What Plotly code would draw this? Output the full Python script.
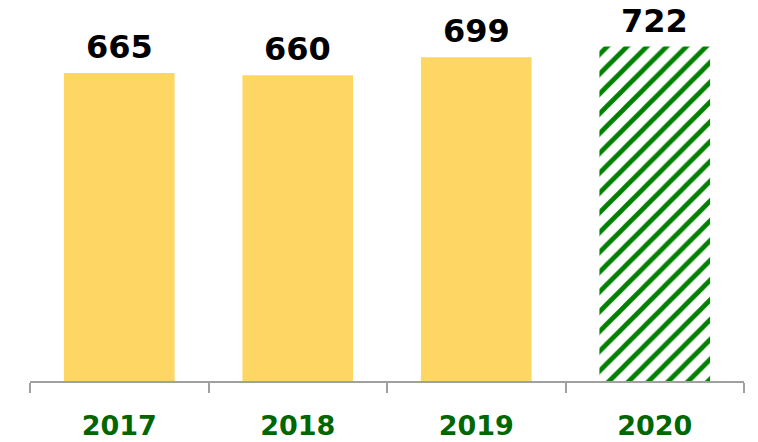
import plotly.graph_objects as go

years = ["2017", "2018", "2019", "2020"]
values = [665, 660, 699, 722]

# the last year is the forecast, drawn with a hatched fill
actual_years, actual_values = years[:3], values[:3]
forecast_years, forecast_values = years[3:], values[3:]

fig = go.Figure()
fig.add_trace(go.Bar(
    x=actual_years,
    y=actual_values,
    width=0.62,
    marker=dict(color="#FDD663", line=dict(width=0)),
    hoverinfo="skip",
))
fig.add_trace(go.Bar(
    x=forecast_years,
    y=forecast_values,
    width=0.62,
    marker=dict(
        color="#FFFFFF",
        line=dict(width=0),
        pattern=dict(shape="/", fgcolor="#008000", bgcolor="#FFFFFF",
                     fgopacity=1, size=14, solidity=0.34),
    ),
    hoverinfo="skip",
))

# value labels above each bar (category index keeps the numeric-looking
# year names from being read as coordinates)
for i, v in enumerate(values):
    fig.add_annotation(
        x=i, y=v, text=str(v), showarrow=False,
        xref="x", yref="y",
        yanchor="bottom", yshift=5,
        font=dict(family="DejaVu Sans", size=32, color="#000000", weight="bold"),
    )

fig.update_layout(
    width=758, height=442,
    margin=dict(l=30, r=14, t=10, b=61, autoexpand=False),
    paper_bgcolor="white", plot_bgcolor="white",
    showlegend=False,
    barmode="overlay",
    xaxis=dict(
        type="category",
        categoryorder="array", categoryarray=years,
        range=[-0.5, 3.5],
        automargin=False,
        showline=True, linecolor="#A0A0A0", linewidth=1.5,
        ticks="outside", tickson="boundaries", ticklen=10,
        tickcolor="#A0A0A0", tickwidth=1.5,
        tickangle=0,
        tickfont=dict(family="DejaVu Sans", size=27, color="#006600", weight="bold"),
        ticklabelstandoff=20,
        showgrid=False,
    ),
    yaxis=dict(range=[0, 800.8], visible=False, showgrid=False, zeroline=False),
)

fig.write_html("out.html")
